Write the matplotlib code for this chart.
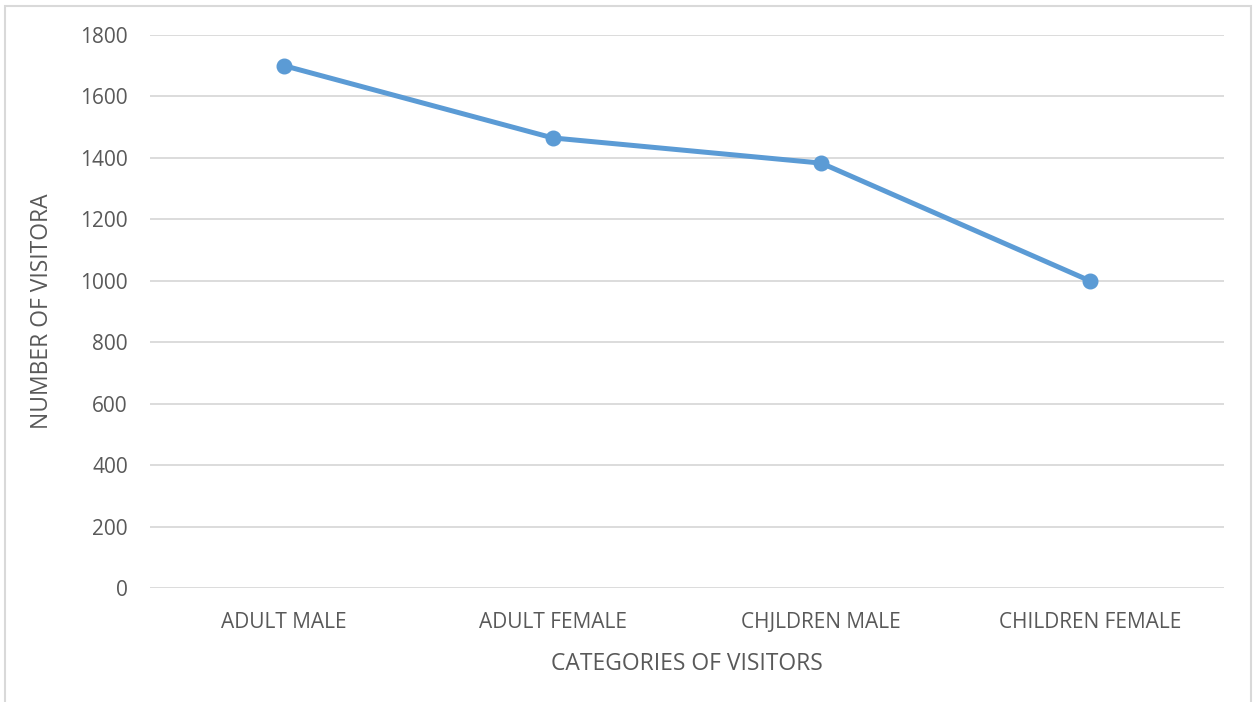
import matplotlib
matplotlib.use("Agg")
import matplotlib.pyplot as plt
from matplotlib.patches import Rectangle

categories = ["ADULT MALE", "ADULT FEMALE", "CHJLDREN MALE", "CHILDREN FEMALE"]
visitors = [1700, 1465, 1383, 1000]
y_ticks = [0, 200, 400, 600, 800, 1000, 1200, 1400, 1600, 1800]

W, H, DPI = 1254, 702, 100
text_color = "#595959"
grid_color = "#d9d9d9"
line_color = "#5b9bd5"

plt.rcParams["font.family"] = ["Open Sans", "DejaVu Sans"]

fig = plt.figure(figsize=(W / DPI, H / DPI), dpi=DPI, facecolor="white")

# chart area border (open at the bottom, like the cropped original)
fig.add_artist(Rectangle((5 / W, -0.1), (1251 - 5) / W, (H - 6) / H + 0.1,
                         transform=fig.transFigure, fill=False,
                         edgecolor="#d9d9d9", linewidth=1.5))

ax = fig.add_axes([150 / W, (H - 588) / H, (1224 - 150) / W, (588 - 35) / H])
x = list(range(len(categories)))
ax.plot(x, visitors, color=line_color, linewidth=3.6, marker="o",
        markersize=10.5, solid_capstyle="round", zorder=3)

ax.set_xlim(-0.5, len(categories) - 0.5)
ax.set_ylim(0, 1800)
ax.set_yticks(y_ticks)
ax.set_xticks(x)
ax.set_xticklabels(categories)
ax.yaxis.grid(True, color=grid_color, linewidth=1.3)
ax.set_axisbelow(True)
for s in ax.spines.values():
    s.set_visible(False)
ax.tick_params(length=0, labelsize=15, labelcolor=text_color)
ax.tick_params(axis="y", pad=16)
ax.tick_params(axis="x", pad=17)

ax.set_xlabel("CATEGORIES OF VISITORS", fontsize=16.5, color=text_color, labelpad=14)
ax.set_ylabel("NUMBER OF VISITORA", fontsize=16.5, color=text_color, labelpad=19)

fig.savefig("out.png", dpi=DPI, facecolor="white")
